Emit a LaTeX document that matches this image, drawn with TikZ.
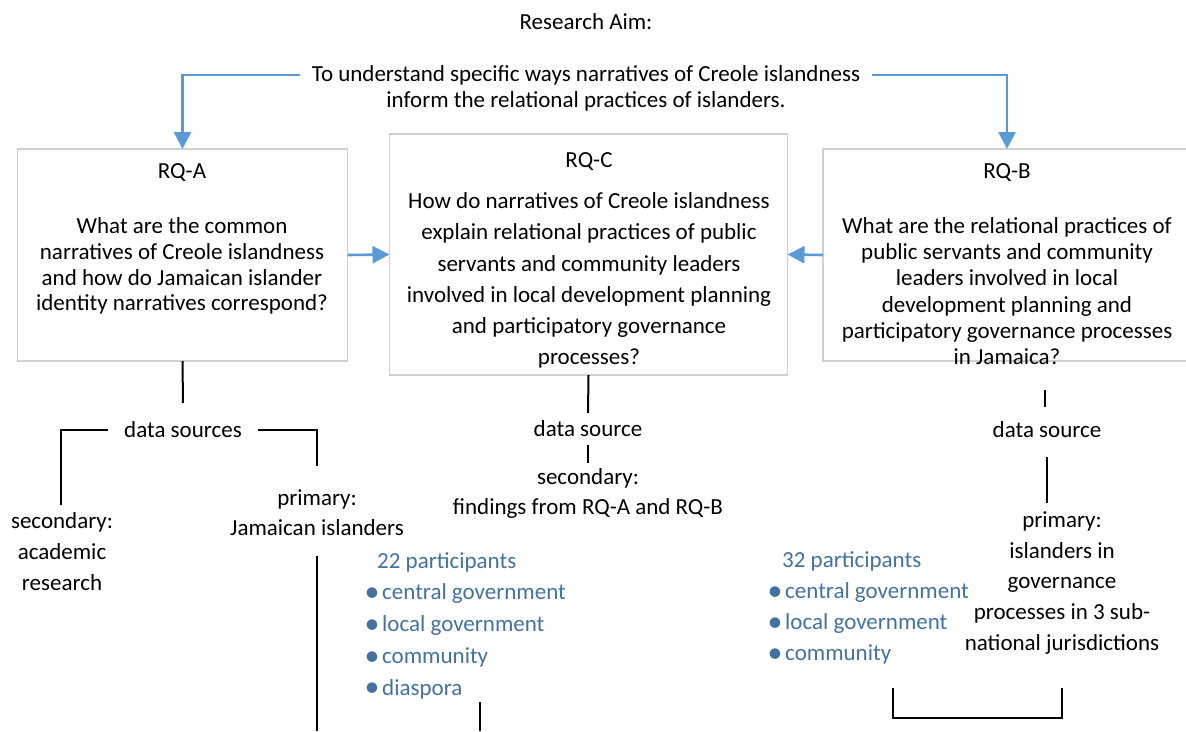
\documentclass[tikz,border=0pt]{standalone}
\usepackage{fontspec}
\setmainfont{Carlito}
\usetikzlibrary{arrows.meta}
\definecolor{flowblue}{RGB}{91,155,213}
\definecolor{listblue}{RGB}{68,114,160}
\definecolor{boxgray}{RGB}{208,208,208}
\newcommand{\lbul}{\makebox[14pt][l]{\kern-3.5pt\raisebox{-0.08em}{\scalebox{1.3}{\textbullet}}}}

\begin{document}
\begin{tikzpicture}[x=1pt,y=-1pt,
  txt/.style={inner sep=0pt, font=\fontsize{23}{28}\selectfont, align=center},
  rqbox/.style={draw=boxgray, line width=1.5pt, inner sep=0pt, outer sep=0pt},
  flow/.style={draw=flowblue, line width=2.6pt, -{Triangle[length=17pt,width=17pt]}},
  link/.style={draw=black, line width=2pt},
  items/.style={inner sep=0pt, align=left, text=listblue, anchor=west}
]
\useasboundingbox (0,0) rectangle (1186,731);
\clip (0,0) rectangle (1186,731);

% research question boxes
\node[rqbox, minimum width=330pt, minimum height=212pt] (boxA) at (182.5,255) {};
\node[rqbox, minimum width=398pt, minimum height=241pt] (boxC) at (588.5,254.5) {};
\node[rqbox, minimum width=368pt, minimum height=212pt] (boxB) at (1007,255) {};

% aim
\node[txt] (title) at (586,22) {Research Aim:};
\node[txt, inner xsep=12pt] (aim1) at (586,75) {To understand specific ways narratives of Creole islandness};
\node[txt] (aim2) at (586,101) {inform the relational practices of islanders.};

% box texts
\node[txt] (hA) at (182,173) {RQ-A};
\node[txt, font=\fontsize{23}{25.9}\selectfont] (qA) at (182,266)
  {What are the common\\narratives of Creole islandness\\and how do Jamaican islander\\identity narratives correspond?};
\node[txt] (hC) at (589,162) {RQ-C};
\node[txt, font=\fontsize{23}{31.2}\selectfont] (qC) at (589,280.5)
  {How do narratives of Creole islandness\\explain relational practices of public\\servants and community leaders\\involved in local development planning\\and participatory governance\\processes?};
\node[txt] (hB) at (1007,173) {RQ-B};
\node[txt, font=\fontsize{23}{26.2}\selectfont] (qB) at (1007,291)
  {What are the relational practices of\\public servants and community\\leaders involved in local\\development planning and\\participatory governance processes\\in Jamaica?};

% flows between aim and questions
\draw[flow] (aim1.west) -| (boxA.north);
\draw[flow] (aim1.east) -| (boxB.north);
\draw[flow] (boxA.east) -- (boxC.west);
\draw[flow] (boxB.west) -- (boxC.east);

% RQ-A data sources
\node[txt] (dsA) at (183,430) {data sources};
\node[txt, font=\fontsize{23}{31}\selectfont] (secA) at (62,552) {secondary:\\academic\\research};
\node[txt, font=\fontsize{23}{30}\selectfont] (priA) at (317,513) {primary:\\Jamaican islanders};
\coordinate (dsAtop) at (183,403);
\coordinate (secAtop) at (61,505);
\coordinate (priAtop) at (317,466);
\coordinate (priAlow) at (317,556);
\coordinate (priAend) at (317,731);
\draw[link] (boxA.south) -- (dsAtop);
\draw[link] ([xshift=-16pt]dsA.west) -| (secAtop);
\draw[link] ([xshift=16pt]dsA.east) -| (priAtop);
\draw[link] (priAlow) -- (priAend);

\node[items, font=\fontsize{23}{31.75}\selectfont] (listC) at (368,625.5)
  {\hspace*{9pt}22 participants\\\lbul central government\\\lbul local government\\\lbul community\\\lbul diaspora};

% RQ-C data source
\node[txt] (dsC) at (588,429) {data source};
\node[txt, font=\fontsize{23}{30}\selectfont] (secC) at (588,493) {secondary:\\findings from RQ-A and RQ-B};
\coordinate (dsCtop) at (588,413);
\coordinate (dsClow) at (588,445);
\coordinate (secCtop) at (588,463);
\coordinate (listCend) at (480,702);
\coordinate (listCbot) at (480,731);
\draw[link] (boxC.south) -- (dsCtop);
\draw[link] (dsClow) -- (secCtop);
\draw[link] (listCend) -- (listCbot);

% RQ-B data source
\node[txt] (dsB) at (1047,430) {data source};
\node[txt, font=\fontsize{23}{30.75}\selectfont] (priB) at (1062,583)
  {primary:\\islanders in\\governance\\processes in 3 sub-\\national jurisdictions};
\node[items, font=\fontsize{23}{31}\selectfont] (listB) at (771,608)
  {\hspace*{11pt}32 participants\\\lbul central government\\\lbul local government\\\lbul community};
\coordinate (dsBup) at (1045,390);
\coordinate (dsBtop) at (1045,407);
\coordinate (dsBlow) at (1047,457);
\coordinate (priBtop) at (1047,503);
\coordinate (brL) at (893,688);
\coordinate (brR) at (1062,688);
\draw[link] (dsBup) -- (dsBtop);
\draw[link] (dsBlow) -- (priBtop);
\draw[link] (brL) -- ++(0,30) -| (brR);
\end{tikzpicture}
\end{document}
